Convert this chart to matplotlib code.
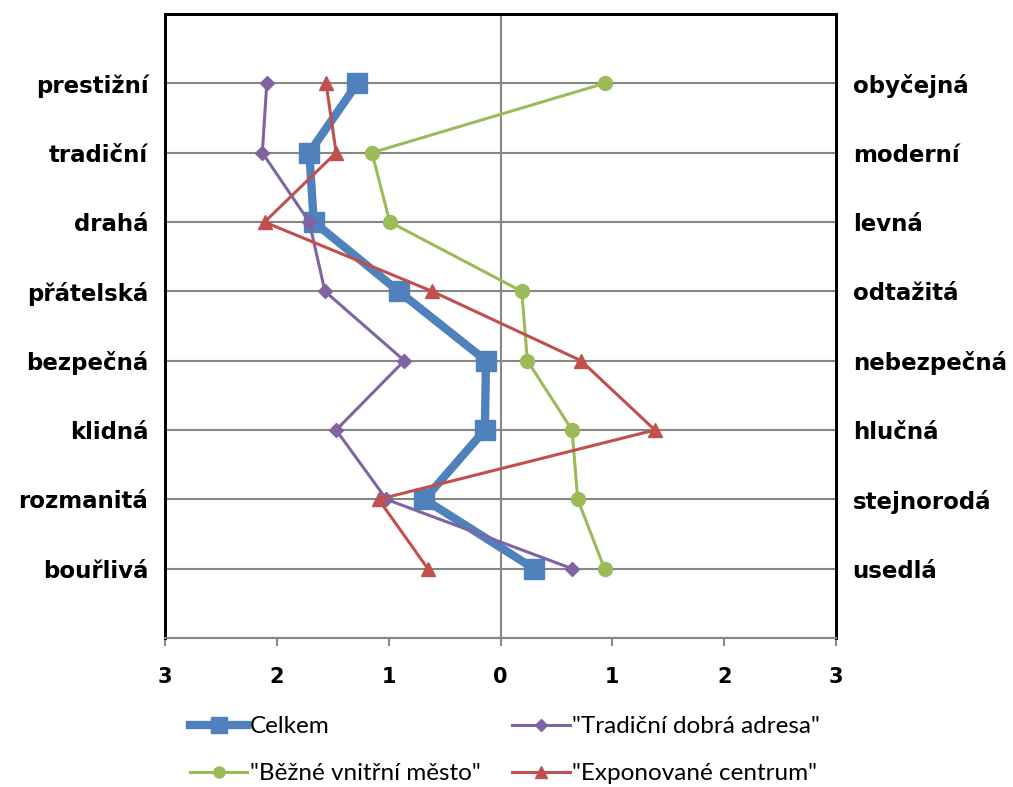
import matplotlib
matplotlib.use("Agg")
import matplotlib.pyplot as plt

## data ##
left_labels = ['prestižní', 'tradiční', 'drahá', 'přátelská', 'bezpečná', 'klidná', 'rozmanitá', 'bouřlivá']
right_labels = ['obyčejná', 'moderní', 'levná', 'odtažitá', 'nebezpečná', 'hlučná', 'stejnorodá', 'usedlá']

celkem = [-1.28, -1.71, -1.67, -0.91, -0.13, -0.14, -0.68, 0.30]
tradicni = [-2.09, -2.13, -1.71, -1.57, -0.86, -1.47, -1.02, 0.64]
bezne = [0.93, -1.15, -0.99, 0.19, 0.24, 0.64, 0.69, 0.93]
exponovane = [-1.56, -1.47, -2.11, -0.61, 0.72, 1.38, -1.09, -0.65]

x_ticks = [-3, -2, -1, 0, 1, 2, 3]

rows = list(range(1, len(left_labels) + 1))

fig = plt.figure(figsize=(10.13, 7.87), dpi=100)
ax = fig.add_axes([0.1629, 0.1893, 0.8253 - 0.1629, 0.9822 - 0.1893])

## gridlines ##
for r in rows:
    ax.axhline(r, color='#868686', lw=1.5, zorder=1)
ax.axvline(0, color='#868686', lw=1.5, zorder=1)

## series ##
l1, = ax.plot(celkem, rows, color='#4F81BD', lw=6, marker='s', ms=14, zorder=3, label='Celkem')
l2, = ax.plot(tradicni, rows, color='#8064A2', lw=2.2, marker='D', ms=7.5, zorder=4, label='"Tradiční dobrá adresa"')
l3, = ax.plot(bezne, rows, color='#9BBB59', lw=2.2, marker='o', ms=10, zorder=4, label='"Běžné vnitřní město"')
l4, = ax.plot(exponovane, rows, color='#C0504D', lw=2.2, marker='^', ms=10, zorder=5, label='"Exponované centrum"')

ax.set_xlim(-3, 3)
ax.set_ylim(9, 0)

ax.set_xticks(x_ticks)
ax.set_xticklabels([str(abs(t)) for t in x_ticks], fontsize=15, fontweight='bold', family='DejaVu Sans')
ax.tick_params(axis='x', length=6, width=1.5, color='#868686', pad=15)

ax.set_yticks(rows)
ax.set_yticklabels(left_labels, fontsize=16.5, fontweight='bold', family='DejaVu Sans')
ax.tick_params(axis='y', length=0, pad=12)

ax2 = ax.twinx()
ax2.set_ylim(9, 0)
ax2.set_yticks(rows)
ax2.set_yticklabels(right_labels, fontsize=16.5, fontweight='bold', family='DejaVu Sans')
ax2.tick_params(axis='y', length=0, pad=12)

for a in (ax, ax2):
    for s in ('left', 'right', 'top'):
        a.spines[s].set_color('black')
        a.spines[s].set_linewidth(2)
    a.spines['bottom'].set_color('#868686')
    a.spines['bottom'].set_linewidth(1.5)

## legend ##
fig.legend([l1, l3, l2, l4],
           [l1.get_label(), l3.get_label(), l2.get_label(), l4.get_label()],
           ncol=2, loc='upper left', bbox_to_anchor=(0.1876, 0.090),
           frameon=False, prop={'family': 'Lato', 'size': 17.5},
           handlelength=2.35, handletextpad=0.12, columnspacing=1.3,
           labelspacing=1.07, markerscale=0.8, borderpad=0, borderaxespad=0)

plt.savefig('out.png', dpi=100)
